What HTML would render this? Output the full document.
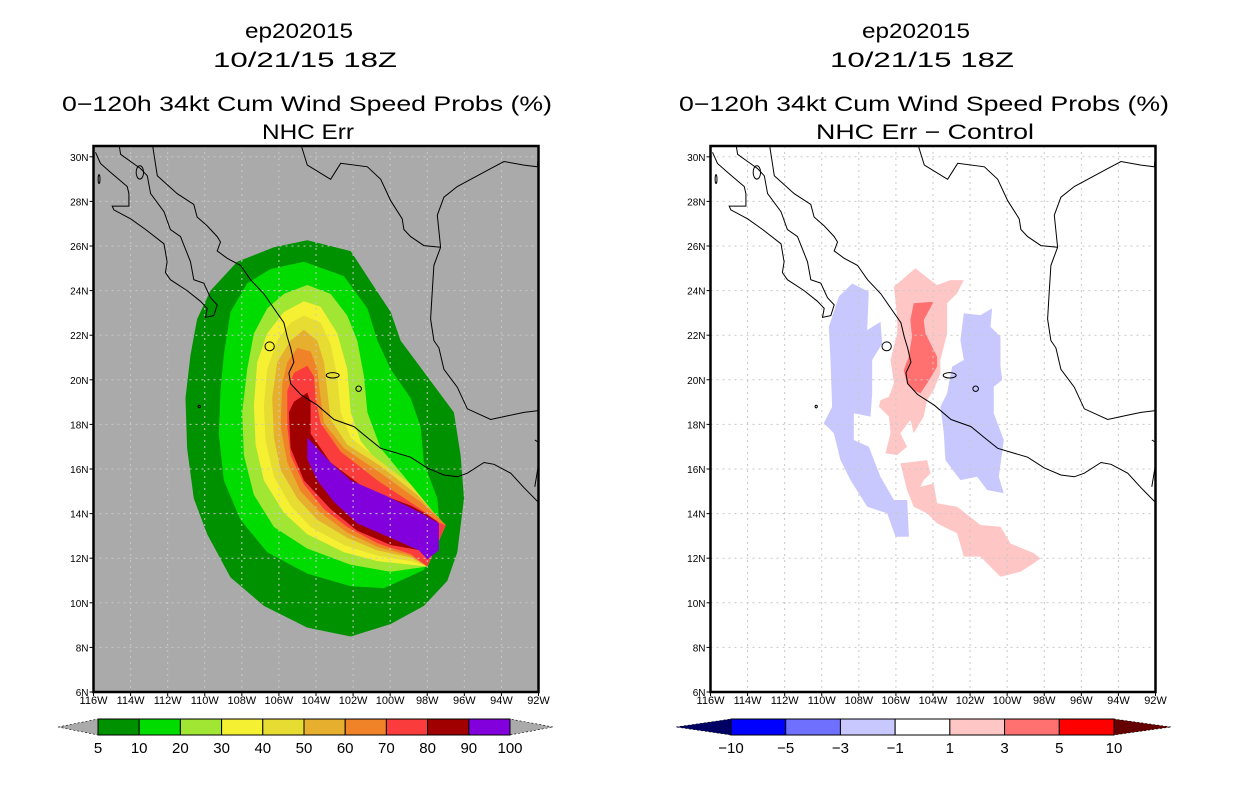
<!DOCTYPE html>
<html><head><meta charset="utf-8"><style>
html,body{margin:0;padding:0;background:#fff;width:1236px;height:800px;overflow:hidden}
svg{display:block}
text{font-family:"Liberation Sans",sans-serif;fill:#000}
</style></head><body>
<svg id="svg" xmlns="http://www.w3.org/2000/svg" width="1236" height="800" viewBox="0 0 1236 800">
<g id="titles">
<text x="299" y="38" font-size="21" text-anchor="middle" textLength="108" lengthAdjust="spacingAndGlyphs">ep202015</text>
<text x="305" y="67" font-size="21" text-anchor="middle" textLength="184" lengthAdjust="spacingAndGlyphs">10/21/15 18Z</text>
<text x="307" y="111" font-size="21" text-anchor="middle" textLength="490" lengthAdjust="spacingAndGlyphs">0−120h 34kt Cum Wind Speed Probs (%)</text>
<text x="308" y="139" font-size="21" text-anchor="middle" textLength="92" lengthAdjust="spacingAndGlyphs">NHC Err</text>
<text x="916" y="38" font-size="21" text-anchor="middle" textLength="108" lengthAdjust="spacingAndGlyphs">ep202015</text>
<text x="922" y="67" font-size="21" text-anchor="middle" textLength="184" lengthAdjust="spacingAndGlyphs">10/21/15 18Z</text>
<text x="924" y="111" font-size="21" text-anchor="middle" textLength="490" lengthAdjust="spacingAndGlyphs">0−120h 34kt Cum Wind Speed Probs (%)</text>
<text x="925" y="139" font-size="21" text-anchor="middle" textLength="218" lengthAdjust="spacingAndGlyphs">NHC Err − Control</text>
</g>
</svg>
<script>
// ---- data (lon, lat) ----
const lonTicks=[116,114,112,110,108,106,104,102,100,98,96,94,92];
const latTicks=[6,8,10,12,14,16,18,20,22,24,26,28,30];
const probLevels=["5","10","20","30","40","50","60","70","80","90","100"];
const probColors=["#009100","#00dc00","#a0e632","#f5f032","#e6dc32","#e6af2d","#f08228","#fa3c3c","#a00000","#8200dc"];
const diffLevels=["−10","−5","−3","−1","1","3","5","10"];
const diffColors=["#0000ff","#7070ff","#c8c8ff","#ffffff","#ffc6c6","#ff7070","#ff0000"];
const p5=[[-104.47,26.26],[-102.13,25.77],[-100.87,24.17],[-99.97,23.04],[-99.44,21.76],[-98.0,20.15],[-96.56,18.54],[-96.2,16.61],[-96.02,14.68],[-96.38,12.27],[-96.92,10.98],[-98.18,9.86],[-99.97,9.05],[-102.13,8.49],[-104.47,8.89],[-106.81,9.86],[-108.61,11.14],[-109.87,13.07],[-110.59,14.68],[-110.95,16.93],[-111.04,19.18],[-110.77,21.11],[-110.41,22.72],[-109.69,24.0],[-108.25,25.29],[-106.27,25.94]];
const p10=[[-104.65,25.29],[-102.49,24.65],[-101.23,23.2],[-100.69,21.76],[-99.97,20.47],[-98.9,19.18],[-98.36,17.9],[-98.18,16.29],[-97.46,14.68],[-97.28,13.07],[-98.18,11.47],[-100.33,10.66],[-102.13,10.74],[-104.47,11.31],[-106.63,12.27],[-108.07,13.72],[-108.97,15.49],[-109.24,17.58],[-109.15,19.5],[-108.97,21.11],[-108.61,23.04],[-107.71,24.33],[-106.45,24.97]];
const p20=[[-104.47,24.25],[-103.21,23.85],[-102.31,22.88],[-101.77,21.76],[-101.41,20.15],[-101.23,18.54],[-100.51,16.93],[-98.9,15.32],[-97.82,14.2],[-97.01,13.48],[-98.0,11.63],[-99.97,11.39],[-102.13,11.71],[-104.47,12.43],[-106.27,13.4],[-107.35,14.84],[-107.89,16.61],[-107.98,18.54],[-107.71,20.47],[-107.35,22.08],[-106.63,23.2],[-105.73,23.85]];
const p30=[[-104.65,23.52],[-103.75,23.28],[-102.85,22.08],[-102.31,20.47],[-102.13,18.54],[-101.59,17.25],[-100.33,15.97],[-98.54,14.68],[-97.46,13.88],[-97.01,13.48],[-98.0,11.63],[-98.9,11.71],[-100.69,11.87],[-102.49,12.27],[-104.47,13.07],[-105.73,14.04],[-106.81,15.49],[-107.26,17.09],[-107.35,18.86],[-107.17,20.79],[-106.63,22.08],[-105.73,23.04]];
const p40=[[-104.65,22.88],[-103.75,22.56],[-103.21,21.6],[-102.85,20.15],[-102.67,18.54],[-102.13,17.41],[-100.69,16.45],[-98.9,15.32],[-97.64,14.04],[-97.01,13.48],[-98.0,11.63],[-98.9,11.87],[-100.69,12.11],[-102.49,12.59],[-104.29,13.4],[-105.37,14.36],[-106.27,15.65],[-106.72,17.25],[-106.81,18.86],[-106.63,20.47],[-106.09,21.76],[-105.37,22.56]];
const p50=[[-104.65,22.24],[-103.93,21.76],[-103.57,20.79],[-103.39,19.5],[-103.21,18.22],[-102.31,17.09],[-100.51,16.13],[-98.54,14.84],[-97.46,13.88],[-97.01,13.48],[-98.0,11.63],[-98.9,12.03],[-100.69,12.35],[-102.31,12.91],[-103.93,13.72],[-105.01,14.68],[-105.91,15.97],[-106.27,17.41],[-106.36,19.18],[-106.09,20.79],[-105.37,21.76]];
const p60=[[-105.01,21.43],[-104.29,21.27],[-103.93,20.47],[-103.75,19.18],[-103.57,18.06],[-102.49,16.93],[-100.51,15.81],[-98.36,14.52],[-97.28,13.72],[-97.01,13.48],[-98.0,11.63],[-98.9,12.11],[-100.69,12.51],[-102.31,13.15],[-103.75,14.04],[-104.83,15.0],[-105.55,16.29],[-105.91,17.9],[-105.82,19.83],[-105.55,20.79]];
const p70=[[-104.47,20.63],[-104.11,20.15],[-104.02,19.18],[-103.75,18.06],[-102.67,16.77],[-100.69,15.49],[-98.36,14.2],[-97.28,13.56],[-97.01,13.48],[-98.0,11.63],[-98.9,12.19],[-100.69,12.67],[-102.31,13.4],[-103.57,14.2],[-104.65,15.32],[-105.37,16.61],[-105.55,17.9],[-105.55,19.5],[-105.19,20.31]];
const p80=[[-104.47,19.42],[-104.29,19.02],[-104.29,17.58],[-103.21,16.29],[-101.41,15.16],[-98.9,14.36],[-98.18,14.04],[-97.46,13.64],[-97.37,12.43],[-98.0,11.95],[-98.36,12.35],[-99.97,12.59],[-101.77,13.23],[-103.21,14.2],[-104.65,15.49],[-105.37,16.93],[-105.46,18.54],[-105.19,19.02]];
const p90=[[-104.47,17.41],[-104.11,17.09],[-103.21,16.29],[-102.13,15.49],[-100.33,14.84],[-98.36,14.04],[-97.37,13.56],[-97.37,12.35],[-98.0,11.95],[-98.45,12.35],[-99.97,12.91],[-101.77,13.56],[-103.03,14.52],[-103.93,15.49],[-104.47,16.45]];
const dBlueW=[[-108.36,24.32],[-107.46,23.95],[-107.55,22.23],[-106.83,22.6],[-106.74,21.63],[-107.28,20.89],[-107.28,19.39],[-107.37,18.35],[-108.27,18.5],[-108.27,17.3],[-107.46,17.0],[-106.83,15.65],[-106.11,14.61],[-105.39,14.61],[-105.3,12.96],[-106.02,12.96],[-106.47,14.01],[-107.55,14.31],[-108.45,15.5],[-108.99,16.4],[-109.35,17.6],[-109.89,18.05],[-109.44,18.79],[-109.53,20.89],[-109.62,22.38],[-109.08,23.73]];
const dBlueE=[[-102.34,22.98],[-101.44,22.9],[-100.81,23.2],[-100.9,22.38],[-100.36,21.93],[-100.36,20.59],[-100.27,19.99],[-100.72,19.69],[-100.72,18.49],[-100.18,17.3],[-100.45,15.65],[-100.18,14.91],[-101.08,15.06],[-101.62,15.65],[-102.52,15.5],[-103.33,16.4],[-103.42,17.6],[-103.6,18.79],[-103.24,19.39],[-102.97,20.59],[-102.34,20.89],[-102.52,21.78]];
const dPinkN=[[-104.95,25.0],[-104.14,24.47],[-103.78,24.25],[-103.06,24.47],[-102.34,24.47],[-102.7,23.88],[-103.24,23.43],[-103.24,22.08],[-103.6,20.89],[-103.6,20.29],[-103.96,19.54],[-104.32,19.09],[-104.5,18.35],[-105.04,17.6],[-105.22,18.2],[-105.76,17.6],[-105.4,17.0],[-105.93,16.63],[-106.56,16.7],[-106.29,17.6],[-106.38,18.35],[-106.92,18.79],[-106.83,19.09],[-106.38,19.24],[-106.11,19.84],[-106.29,20.89],[-105.93,22.08],[-105.93,22.83],[-106.11,24.17]];
const dRedN=[[-105.04,23.43],[-103.96,23.5],[-104.5,22.68],[-104.41,22.08],[-103.78,21.03],[-103.78,20.59],[-104.32,19.84],[-104.68,19.39],[-105.04,19.54],[-105.4,19.84],[-105.58,20.44],[-105.31,21.03],[-105.13,21.93],[-105.22,22.68]];
const dPinkS=[[-105.76,16.25],[-104.32,16.4],[-104.14,15.8],[-104.5,15.5],[-104.68,15.2],[-103.96,15.35],[-103.78,14.46],[-102.7,14.31],[-101.44,13.49],[-100.36,13.41],[-99.82,12.66],[-98.56,12.22],[-98.2,11.99],[-98.56,11.77],[-99.28,11.39],[-100.36,11.17],[-100.9,11.62],[-101.44,12.07],[-102.34,12.07],[-102.7,13.11],[-103.78,13.56],[-104.32,14.01],[-105.04,14.31],[-105.4,15.06]];
const coastBaja=[[-115.89,30.2],[-115.62,29.7],[-115.08,29.3],[-114.18,28.67],[-114.09,28.35],[-114.09,27.79],[-114.99,27.79],[-114.9,27.62],[-114.0,27.22],[-113.19,26.74],[-112.2,26.1],[-112.03,25.29],[-112.12,24.81],[-111.85,24.49],[-110.95,24.0],[-110.23,23.52],[-109.87,23.2],[-109.96,22.8],[-109.51,22.88],[-109.33,23.36],[-109.69,23.68],[-110.05,24.33],[-110.59,24.49],[-110.77,25.29],[-111.31,26.42],[-111.85,26.74],[-112.2,27.54],[-112.92,28.35],[-113.1,29.15],[-113.46,29.47],[-114.0,29.79],[-114.54,30.11],[-114.63,30.6]];
const coastPacific=[[-112.83,30.6],[-112.56,29.15],[-111.49,28.35],[-110.59,27.86],[-110.41,27.3],[-109.87,26.9],[-109.33,26.42],[-109.15,26.18],[-109.33,25.78],[-108.79,25.45],[-108.07,25.13],[-107.53,24.49],[-106.81,23.85],[-106.27,23.2],[-105.73,22.56],[-105.55,21.92],[-105.37,21.43],[-105.19,20.79],[-105.46,20.31],[-105.37,19.83],[-104.83,19.34],[-103.93,18.86],[-103.03,18.22],[-101.95,17.9],[-101.23,17.41],[-100.51,16.93],[-98.9,16.53],[-98.0,16.05],[-97.1,15.73],[-96.38,15.65],[-95.84,15.81],[-94.94,16.29],[-94.4,16.21],[-93.5,15.81],[-92.78,15.16],[-92.0,14.5]];
const coastBorder=[[-104.83,30.6],[-104.47,29.63],[-103.21,28.99],[-102.67,29.71],[-101.23,29.55],[-100.51,28.99],[-99.97,28.03],[-99.35,27.22],[-99.26,26.74],[-98.9,26.42],[-98.18,26.02],[-97.28,25.94]];
const coastGulf=[[-92.0,30.1],[-92.06,29.55],[-92.78,29.63],[-93.86,29.79],[-94.58,29.47],[-96.38,28.67],[-97.1,28.19],[-97.46,27.38],[-97.28,25.94],[-97.64,25.13],[-97.73,24.0],[-97.82,22.72],[-97.64,21.76],[-97.37,21.43],[-97.1,20.47],[-96.38,19.67],[-95.84,18.7],[-94.58,18.22],[-93.68,18.38],[-92.78,18.54],[-92.0,18.62]];
const coastGuat=[[-92.2,17.3],[-91.6,17.0],[-92.0,16.2],[-92.2,15.2]];
const islands=[[-106.5,21.5,0.25,0.2],[-103.1,20.2,0.35,0.12],[-101.7,19.6,0.15,0.12],[-115.7,29.0,0.05,0.2],[-110.3,18.8,0.06,0.06],[-113.5,29.3,0.2,0.3]];

const NS='http://www.w3.org/2000/svg';
const svg=document.getElementById('svg');
function mk(tag,attrs,parent){const e=document.createElementNS(NS,tag);for(const k in attrs)e.setAttribute(k,attrs[k]);(parent||svg).appendChild(e);return e;}
const PL=146,PB=692,PW=445;
function xs(x0){return lon=>x0+(lon+116)*(PW/24);}
function ys(lat){return PB-(lat-6)*22.3;}
function pts(arr,X){return arr.map(p=>X(p[0]).toFixed(1)+','+ys(p[1]).toFixed(1)).join(' ');}

function panel(x0,bg,fills,name){
  const X=xs(x0);
  const g=mk('g',{});
  
  
  const cp=mk('clipPath',{id:'cp'+name},g);
  mk('rect',{x:x0,y:PL,width:PW,height:PB-PL},cp);
  const bgR=mk('rect',{x:x0,y:PL,width:PW,height:PB-PL,fill:bg},g);
  
  
  const inner=mk('g',{'clip-path':'url(#cp'+name+')'},g);
  fills.forEach(f=>{
    const p=mk('polygon',{points:pts(f.poly,X),fill:f.color},inner);
    
    
  });
  // grid
  lonTicks.forEach(l=>{const x=X(-l);mk('line',{x1:x,x2:x,y1:PL,y2:PB,stroke:'#c8c8c8','stroke-width':1,'stroke-dasharray':'2,4'},inner);});
  latTicks.forEach(l=>{const y=ys(l);mk('line',{x1:x0,x2:x0+PW,y1:y,y2:y,stroke:'#c8c8c8','stroke-width':1,'stroke-dasharray':'2,4'},inner);});
  // coastlines
  [coastBaja,coastPacific,coastBorder,coastGulf,coastGuat].forEach(c=>{
    const l=mk('polyline',{points:pts(c,X),fill:'none',stroke:'#000','stroke-width':1},inner);
    
    
  });
  islands.forEach(i=>{mk('ellipse',{cx:X(i[0]),cy:ys(i[1]),rx:i[2]*18.5,ry:i[3]*22.3,fill:'none',stroke:'#000','stroke-width':1},inner);});
  const fr=mk('rect',{x:x0,y:PL,width:PW,height:PB-PL,fill:'none',stroke:'#000','stroke-width':2.5},g);
  
  
  lonTicks.forEach(l=>{
    const x=X(-l);
    mk('line',{x1:x,x2:x,y1:PB,y2:PB+4,stroke:'#000'},g);
    const t=mk('text',{x:x,y:PB+12,'font-size':11,'text-anchor':'middle'},g);
    t.textContent=l+'W';
    
    
  });
  latTicks.forEach(l=>{
    const y=ys(l);
    mk('line',{x1:x0-4,x2:x0,y1:y,y2:y,stroke:'#000'},g);
    const t=mk('text',{x:x0-5,y:y+4,'font-size':10,'text-anchor':'end'},g);
    t.textContent=l+'N';
    
    
  });
}
panel(93.5,'#aaaaaa',[
 {poly:p5,color:probColors[0],name:'prob-5'},{poly:p10,color:probColors[1],name:'prob-10'},
 {poly:p20,color:probColors[2],name:'prob-20'},{poly:p30,color:probColors[3],name:'prob-30'},
 {poly:p40,color:probColors[4],name:'prob-40'},{poly:p50,color:probColors[5],name:'prob-50'},
 {poly:p60,color:probColors[6],name:'prob-60'},{poly:p70,color:probColors[7],name:'prob-70'},
 {poly:p80,color:probColors[8],name:'prob-80'},{poly:p90,color:probColors[9],name:'prob-90'}],'left-map');
panel(710.5,'#ffffff',[
 {poly:dBlueW,color:diffColors[2],name:'diff-negative-west'},{poly:dBlueE,color:diffColors[2],name:'diff-negative-east'},
 {poly:dPinkN,color:diffColors[4],name:'diff-positive-north'},{poly:dRedN,color:diffColors[5],name:'diff-positive-core'},
 {poly:dPinkS,color:diffColors[4],name:'diff-positive-south'}],'right-map');

function colorbar(x0,x1,tipL,tipR,cols,leftTip,rightTip,labels,name){
  const g=mk('g',{});
  
  
  const y0=719,y1=735,ym=727,n=cols.length,w=(x1-x0)/n;
  mk('polygon',{points:`${tipL},${ym} ${x0},${y0} ${x0},${y1}`,fill:leftTip,stroke:'#000','stroke-width':0.6,'stroke-dasharray':'2,2'},g);
  mk('polygon',{points:`${tipR},${ym} ${x1},${y0} ${x1},${y1}`,fill:rightTip,stroke:'#000','stroke-width':0.6,'stroke-dasharray':'2,2'},g);
  cols.forEach((c,i)=>{
    const r=mk('rect',{x:x0+i*w,y:y0,width:w,height:y1-y0,fill:c,stroke:'#000','stroke-width':1},g);
    
    
  });
  labels.forEach((s,i)=>{
    const t=mk('text',{x:x0+i*w,y:753,'font-size':15,'text-anchor':'middle'},g);
    t.textContent=s;
    
    
  });
}
colorbar(98,510,58,553,probColors.concat(['#8200dc']).slice(0,10).concat([]),'#aaaaaa','#aaaaaa',probLevels,'left-colorbar');
colorbar(731,1114,676,1171,diffColors,'#000064','#640000',diffLevels,'right-colorbar');
</script>
</body></html>
